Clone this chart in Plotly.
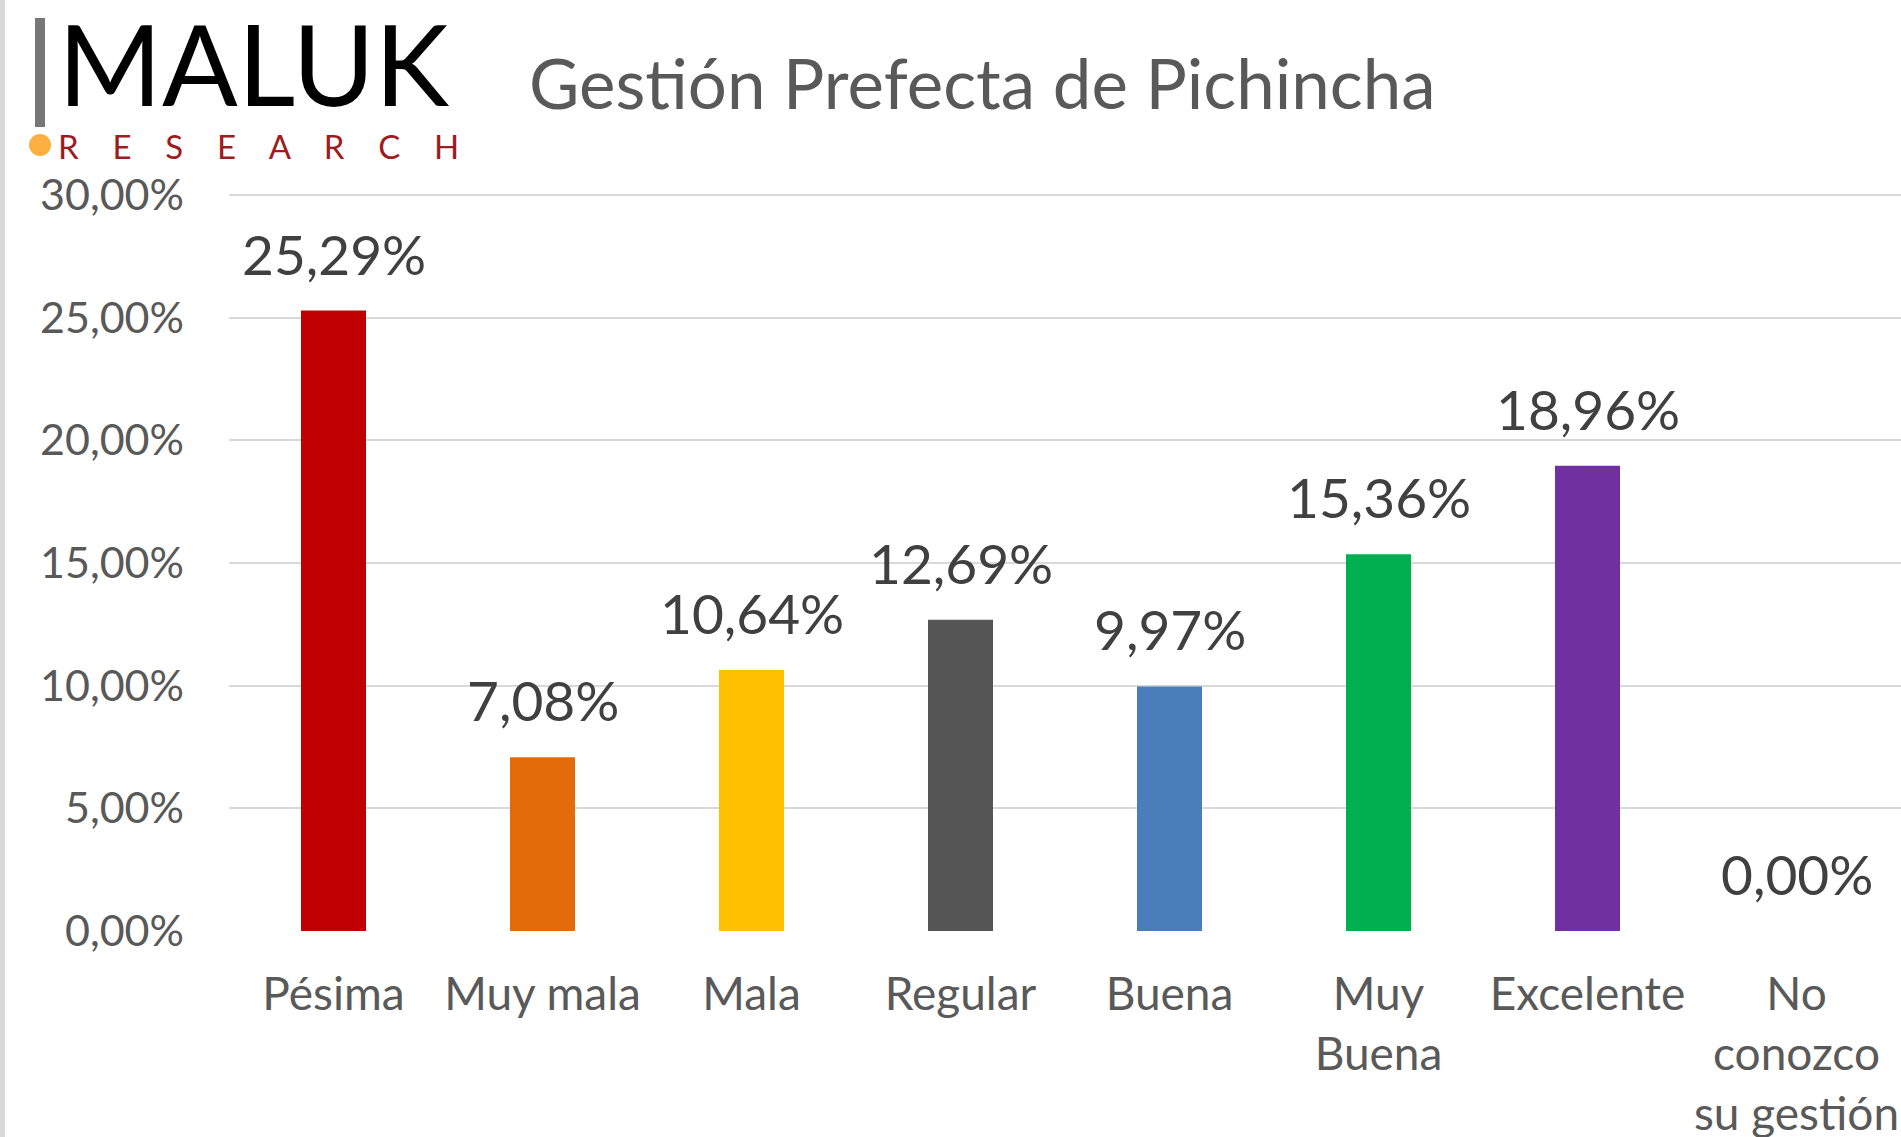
import plotly.graph_objects as go

categories = ["Pésima", "Muy mala", "Mala", "Regular", "Buena", "Muy Buena", "Excelente", "No conozco su gestión"]
tick_labels = ["Pésima", "Muy mala", "Mala", "Regular", "Buena", "Muy<br>Buena", "Excelente", "No<br>conozco<br>su gestión"]
values = [25.29, 7.08, 10.64, 12.69, 9.97, 15.36, 18.96, 0.00]
bar_colors = ["#C00000", "#E36C0A", "#FFC000", "#555555", "#4A7EBB", "#00B050", "#7030A0", "#A5A5A5"]
y_ticks = [0, 5, 10, 15, 20, 25, 30]
y_tick_labels = ["0,00%", "5,00%", "10,00%", "15,00%", "20,00%", "25,00%", "30,00%"]

W, H = 1901, 1137
L, R, T, B = 229, 0, 188, 206
PW = W - L - R
PH = H - T - B
Y_MAX = 30.285  # keeps the 30% gridline just inside the plot area


def px_x(px):
    return (px - L) / PW


def px_y(py):
    return (H - B - py) / PH


FONT = "Lato, 'Open Sans', sans-serif"

fig = go.Figure()
fig.add_trace(go.Bar(
    x=categories,
    y=values,
    marker=dict(color=bar_colors, line=dict(width=0)),
    hoverinfo="skip",
))

annotations = []
for c, v in zip(categories, values):
    annotations.append(dict(
        x=c, y=v, xref="x", yref="y",
        text=f"{v:.2f}%".replace(".", ","),
        showarrow=False, yanchor="middle", xanchor="center", yshift=57,
        font=dict(family=FONT, size=55, color="#404040"),
    ))

# Title
annotations.append(dict(
    x=px_x(527), y=px_y(82), xref="paper", yref="paper",
    text="Gestión Prefecta de Pichincha", showarrow=False,
    xanchor="left", yanchor="middle",
    font=dict(family=FONT, size=69, color="#595959"),
))
# Logo text
annotations.append(dict(
    x=px_x(56), y=px_y(62), xref="paper", yref="paper",
    text="MALUK", showarrow=False, xanchor="left", yanchor="middle",
    font=dict(family=FONT, size=112, color="#000000"),
))
sp = "\u00a0" * 4
annotations.append(dict(
    x=px_x(56), y=px_y(146), xref="paper", yref="paper",
    text=sp.join("RESEARCH"), showarrow=False,
    xanchor="left", yanchor="middle",
    font=dict(family=FONT, size=33, color="#9E1B20"),
))

shapes = [
    # left frame border
    dict(type="rect", xref="paper", yref="paper", x0=px_x(0), x1=px_x(5), y0=px_y(H), y1=px_y(0),
         fillcolor="#D9D9D9", line=dict(width=0), layer="below"),
    # logo vertical bar
    dict(type="rect", xref="paper", yref="paper", x0=px_x(35), x1=px_x(45), y0=px_y(127), y1=px_y(18),
         fillcolor="#777777", line=dict(width=0)),
    # logo orange dot
    dict(type="circle", xref="paper", yref="paper", x0=px_x(29), x1=px_x(51), y0=px_y(156), y1=px_y(134),
         fillcolor="#FBB040", line=dict(width=0)),
]

fig.update_layout(
    width=W, height=H,
    margin=dict(l=L, r=R, t=T, b=B, autoexpand=False),
    paper_bgcolor="white", plot_bgcolor="white",
    showlegend=False,
    bargap=0.689,
    annotations=annotations,
    shapes=shapes,
    xaxis=dict(
        tickmode="array", tickvals=categories, ticktext=tick_labels,
        showgrid=False, showline=False, zeroline=False, ticks="",
        ticklabelstandoff=32,
        tickfont=dict(family=FONT, size=46, color="#595959"),
        fixedrange=True,
    ),
    yaxis=dict(
        range=[0, Y_MAX], tickmode="array", tickvals=y_ticks, ticktext=y_tick_labels,
        showgrid=True, gridcolor="#D9D9D9", gridwidth=2,
        zeroline=False, showline=False, ticks="",
        ticklabelstandoff=44,
        tickfont=dict(family=FONT, size=43, color="#595959"),
        fixedrange=True,
    ),
)

fig.write_html("out.html", config={"displayModeBar": False},
               post_script="document.body.style.margin='0';document.body.style.padding='0';")
